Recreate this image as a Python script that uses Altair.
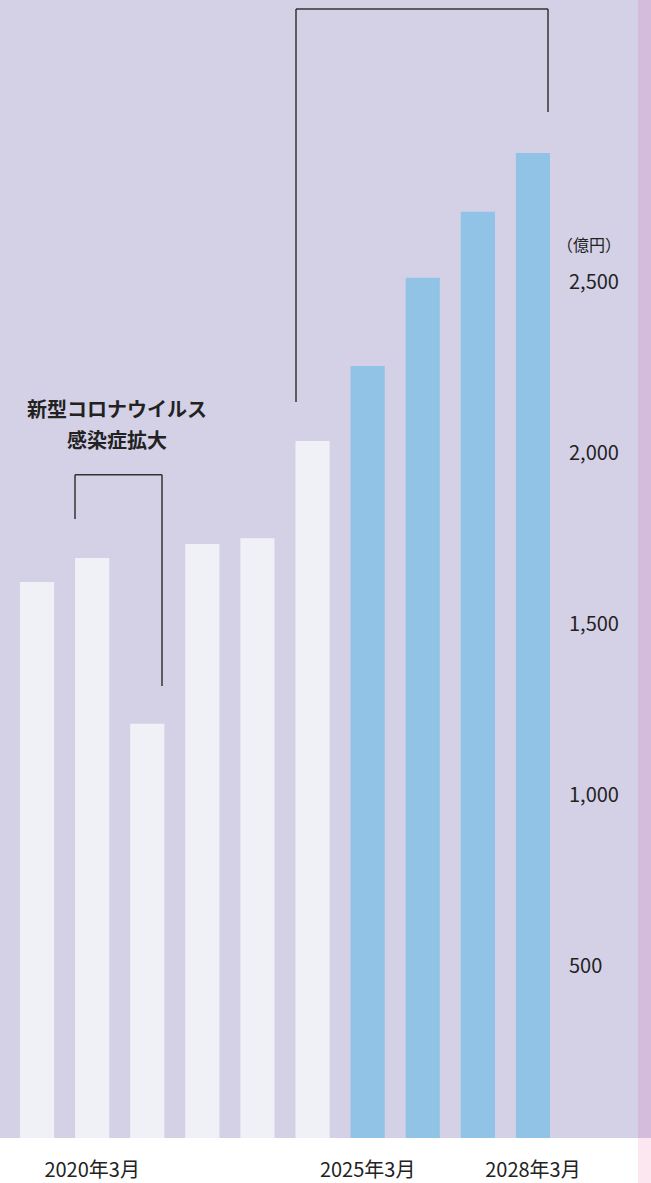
import altair as alt
import pandas as pd

periods = ["2019年3月", "2020年3月", "2021年3月", "2022年3月", "2023年3月",
           "2024年3月", "2025年3月", "2026年3月", "2027年3月", "2028年3月"]
values = [1626, 1696, 1211, 1737, 1754, 2038, 2257, 2515, 2708, 2880]
kinds = ["実績"] * 6 + ["予測"] * 4
shown_labels = ["2020年3月", "2025年3月", "2028年3月"]
y_ticks = [500, 1000, 1500, 2000, 2500]

df = pd.DataFrame({"period": periods, "value": values, "kind": kinds})
ticks_df = pd.DataFrame({"v": y_ticks, "lab": [f"{t:,}" for t in y_ticks]})

FONT = "Noto Sans CJK JP"
W, H = 638, 1138
ymax = 1138 * 500 / 171

xscale = alt.Scale(domain=periods, range=[9.5, 560.5], paddingInner=0.38, paddingOuter=0.19)
yscale = alt.Scale(domain=[0, ymax], range=[H, 0], nice=False, zero=True)

bars = alt.Chart(df).mark_bar().encode(
    x=alt.X("period:N", scale=xscale, sort=periods,
            axis=alt.Axis(title=None, domain=False, ticks=False, labelAngle=0,
                          labelFont=FONT, labelFontSize=20, labelColor="#222",
                          labelPadding=22, grid=False,
                          labelExpr="indexof(['2020年3月','2025年3月','2028年3月'], datum.value) >= 0 ? datum.value : ''")),
    y=alt.Y("value:Q", scale=yscale, axis=None),
    color=alt.Color("kind:N", scale=alt.Scale(domain=["実績", "予測"], range=["#f0f0f7", "#90c3e6"]), legend=None),
)

ylabels = alt.Chart(ticks_df).mark_text(align="left", baseline="middle", font=FONT,
                                         fontSize=20, color="#222").encode(
    x=alt.value(569), y=alt.Y("v:Q", scale=yscale), text="lab:N")

unit = alt.Chart(pd.DataFrame({"v": [2608], "t": ["（億円）"]})).mark_text(
    align="left", baseline="middle", font=FONT, fontSize=16, color="#222", dx=-9).encode(
    x=alt.value(566), y=alt.Y("v:Q", scale=yscale), text="t:N")

note = alt.Chart(pd.DataFrame({"v": [2126, 2034], "t": ["新型コロナウイルス", "感染症拡大"]})).mark_text(
    align="center", baseline="middle", font=FONT, fontSize=20, fontWeight="bold", color="#222").encode(
    x=alt.value(117), y=alt.Y("v:Q", scale=yscale), text="t:N")

# bracket segments: x pixel positions, y in data units
vsegs = pd.DataFrame({
    "xp": [75, 162, 296, 548],
    "y1": [1939, 1939, 3301, 3301],
    "y2": [1810, 1322, 2152, 3000],
})
hsegs = pd.DataFrame({"xa": [75, 296], "xb": [162, 548], "y": [1939, 3301]})

vrules = alt.Chart(vsegs).mark_rule(color="#333", strokeWidth=1.5).encode(
    x=alt.X("xp:Q", scale=alt.Scale(domain=[0, W], range=[0, W]), axis=None),
    y=alt.Y("y1:Q", scale=yscale), y2="y2:Q")
hrules = alt.Chart(hsegs).mark_rule(color="#333", strokeWidth=1.5).encode(
    x=alt.X("xa:Q", scale=alt.Scale(domain=[0, W], range=[0, W]), axis=None), x2="xb:Q",
    y=alt.Y("y:Q", scale=yscale))

strip_top = alt.Chart(pd.DataFrame({"a": [0]})).mark_rect(color="#d4bcdc", clip=False).encode(
    x=alt.value(W), x2=alt.value(651), y=alt.value(0), y2=alt.value(H))
strip_bot = alt.Chart(pd.DataFrame({"a": [0]})).mark_rect(color="#fce6f0", clip=False).encode(
    x=alt.value(W), x2=alt.value(651), y=alt.value(H), y2=alt.value(1183))

chart = alt.layer(bars, vrules, hrules, ylabels, unit, note, strip_top, strip_bot).resolve_scale(
    x="independent").properties(
    width=W, height=H,
    autosize=alt.AutoSizeParams(type="none"),
    padding={"left": 0, "top": 0, "right": 13, "bottom": 45},
    background="white",
).configure_view(fill="#d4d1e7", stroke=None)

chart.save("out.html", embed_options={"renderer": "svg", "actions": False})
